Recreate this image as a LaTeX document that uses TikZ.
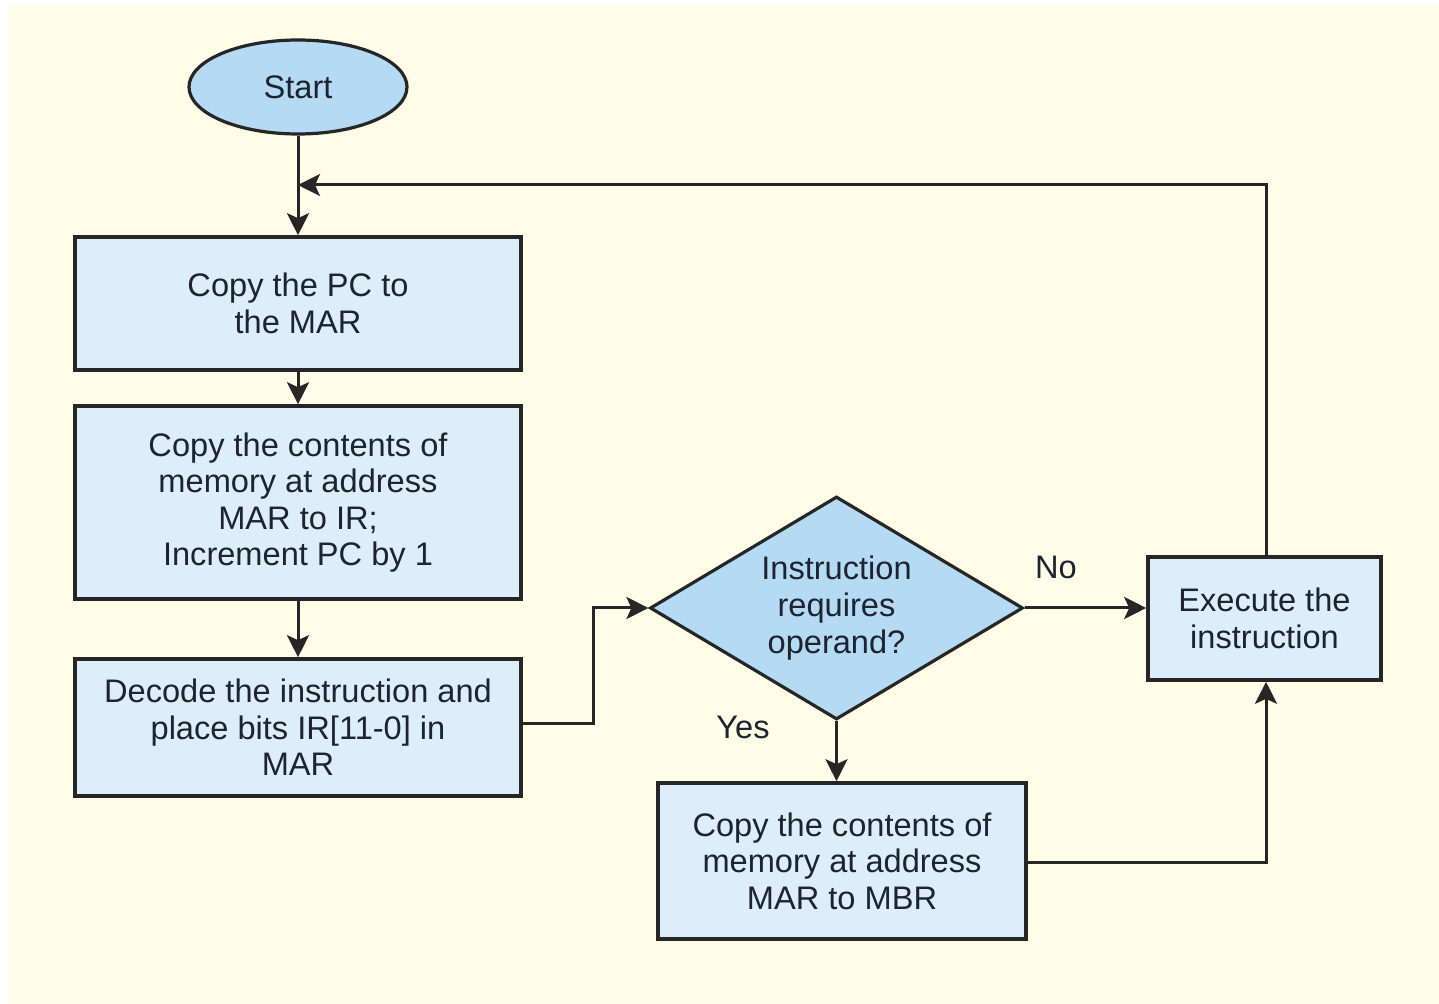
\documentclass[tikz,border=0pt]{standalone}
\usepackage{fontspec}
\setmainfont{Liberation Sans}
\usetikzlibrary{shapes.geometric,arrows.meta}
\definecolor{bgcream}{HTML}{FFFDE8}
\definecolor{boxfill}{HTML}{DDEEFA}
\definecolor{darkfill}{HTML}{B5DAF3}
\definecolor{inkline}{HTML}{262626}
\definecolor{inktext}{HTML}{1E2330}
\begin{document}
\begin{tikzpicture}[x=0.5pt,y=-0.5pt,
  every node/.style={font=\fontsize{16.3}{18.3}\selectfont, text=inktext, align=center},
  procbox/.style={draw=inkline, line width=1.8pt, fill=boxfill, inner sep=0pt},
  termnode/.style={ellipse, draw=inkline, line width=1.6pt, fill=darkfill, inner sep=0pt,
    minimum width=109pt, minimum height=47pt},
  decnode/.style={diamond, draw=inkline, line width=1.6pt, fill=darkfill, inner sep=0pt,
    minimum width=186.5pt, minimum height=111.5pt},
  flow/.style={draw=inkline, line width=1.5pt,
    -{Stealth[length=11pt,width=11pt,inset=2.5pt]}},
  lbl/.style={text=inktext}]
\useasboundingbox (0,0) rectangle (1439,1004);
\fill[white] (0,0) rectangle (1439,1004);
\fill[bgcream] (8,5) rectangle (1439,1004);

\node[termnode] (start) at (298,87) {Start};
\node[procbox, minimum width=223pt, minimum height=66.5pt] (pc) at (298,303.5) {Copy the PC to\\the MAR};
\node[procbox, minimum width=223pt, minimum height=96.5pt] (fetch) at (298,502.5) {Copy the contents of\\memory at address\\MAR to IR;\\Increment PC by 1};
\node[procbox, minimum width=223pt, minimum height=68.5pt] (decode) at (298,727.5) {Decode the instruction and\\place bits IR[11-0] in\\MAR};
\node[decnode] (dec) at (836.5,608) {};
\node at (836.5,608) {Instruction\\requires\\operand?};
\node[procbox, minimum width=116.5pt, minimum height=61.5pt] (exec) at (1264.5,618.5) {Execute the\\instruction};
\node[procbox, minimum width=184pt, minimum height=78pt] (mbr) at (842,861) {Copy the contents of\\memory at address\\MAR to MBR};

\node[lbl] (no) at (1056,567) {No};
\node[lbl] (yes) at (743,727) {Yes};

\coordinate (merge) at (298,185);
\coordinate (corner) at (1266,185);

\draw[flow] (start.south) -- (pc.north);
\draw[flow] (exec.north -| corner) -- (corner) -- (merge);
\draw[flow] (pc.south) -- (fetch.north);
\draw[flow] (fetch.south) -- (decode.north);
\draw[flow] (decode.east |- 0,723) -- (593,723) -- (593,608) -- (dec.west);
\draw[flow] (dec.east) -- (exec.west |- dec.east);
\draw[flow] (dec.south) -- (mbr.north -| dec.south);
\draw[flow] (mbr.east |- 0,862) -- (1266,862) -- (exec.south -| corner);
\end{tikzpicture}
\end{document}
